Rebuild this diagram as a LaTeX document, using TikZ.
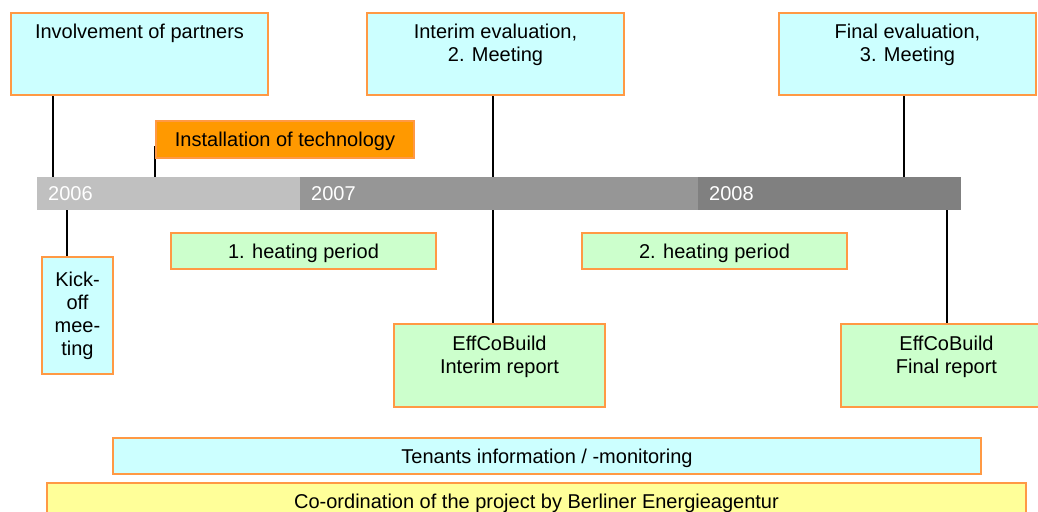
\documentclass[tikz,border=0pt]{standalone}
\usepackage{fontspec}
\setmainfont{Liberation Sans}
\usetikzlibrary{backgrounds}
\definecolor{frame}{HTML}{FF9944}
\definecolor{cyanfill}{HTML}{CCFFFF}
\definecolor{greenfill}{HTML}{CCFFCC}
\definecolor{yellowfill}{HTML}{FFFF99}
\definecolor{orangefill}{HTML}{FF9900}
\definecolor{barA}{HTML}{C0C0C0}
\definecolor{barB}{HTML}{969696}
\definecolor{barC}{HTML}{808080}

\begin{document}
\begin{tikzpicture}[x=1pt, y=-1pt]
				\tikzstyle{every node}=[align=center, inner sep=0pt, font=\fontsize{20}{23}\selectfont]
				\tikzstyle{box}=[draw=frame, line width=2pt, anchor=north west, text height=14.5pt, text depth=0pt]
				\tikzstyle{topbox}=[box, text height=25.5pt, text depth=56.5pt]
				\tikzstyle{twobox}=[box, text height=48.5pt, text depth=33.5pt]
				\tikzstyle{year}=[anchor=north west, text=white, inner xsep=11pt, align=left, minimum height=33pt, text height=14.5pt, text depth=0pt]
				\tikzstyle{stem}=[line width=2pt]

				\useasboundingbox (0,0) rectangle (1038,511);
				\clip (0,0) rectangle (1038,511);

				% time line
				\node[year, fill=barA, text width=241pt] (Y6) at (37, 177) {2006};
				\node[year, fill=barB, text width=376pt] (Y7) at (300, 177) {2007};
				\node[year, fill=barC, text width=241pt] (Y8) at (698, 177) {2008};

				% above
				\node[topbox, fill=cyanfill, minimum width=257pt] (P) at (10, 12) {Involvement of partners};
				\node[twobox, fill=cyanfill, minimum width=257pt] (M2) at (366, 12) {Interim evaluation,\\2. Meeting};
				\node[twobox, fill=cyanfill, minimum width=257pt] (M3) at (778, 12) {Final evaluation,\\3. Meeting};
				\node[box, fill=orangefill, minimum width=258pt, minimum height=37pt] (T) at (155, 120) {Installation of technology};

				% below
				\node[box, fill=cyanfill, minimum width=71pt, minimum height=117pt, text height=, text depth=] (K) at (41, 256) {Kick-\\off\\mee-\\ting};
				\node[box, fill=greenfill, minimum width=265pt, minimum height=36pt] (H1) at (170, 232) {1. heating period};
				\node[box, fill=greenfill, minimum width=265pt, minimum height=36pt] (H2) at (581, 232) {2. heating period};
				\node[twobox, fill=greenfill, minimum width=211pt, text height=49pt, text depth=34pt] (R1) at (393, 323) {EffCoBuild\\Interim report};
				\node[twobox, fill=greenfill, minimum width=211pt, text height=49pt, text depth=34pt] (R2) at (840, 323) {EffCoBuild\\Final report};

				% bottom
				\node[box, fill=cyanfill, minimum width=868pt, minimum height=36pt] (TI) at (112, 437) {Tenants information / -monitoring};
				\node[box, fill=yellowfill, minimum width=979pt, minimum height=36pt] (CO) at (46, 482) {Co-ordination of the project by Berliner Energieagentur};

				\begin{scope}[on background layer]
					\draw[stem] (P.south -| 53,0) to (Y6.north -| 53,0);
					\draw[stem] ([yshift=-6pt]T.west) to (T.west |- Y6.north);
					\draw[stem] (Y6.south -| 67,0) to (K.north -| 67,0);
					\draw[stem] (M2.south -| 493,0) to (R1.north -| 493,0);
					\draw[stem] (M3.south -| 904,0) to (Y8.north -| 904,0);
					\draw[stem] (Y8.south -| 947,0) to (R2.north -| 947,0);
				\end{scope}
			\end{tikzpicture}
\end{document}
